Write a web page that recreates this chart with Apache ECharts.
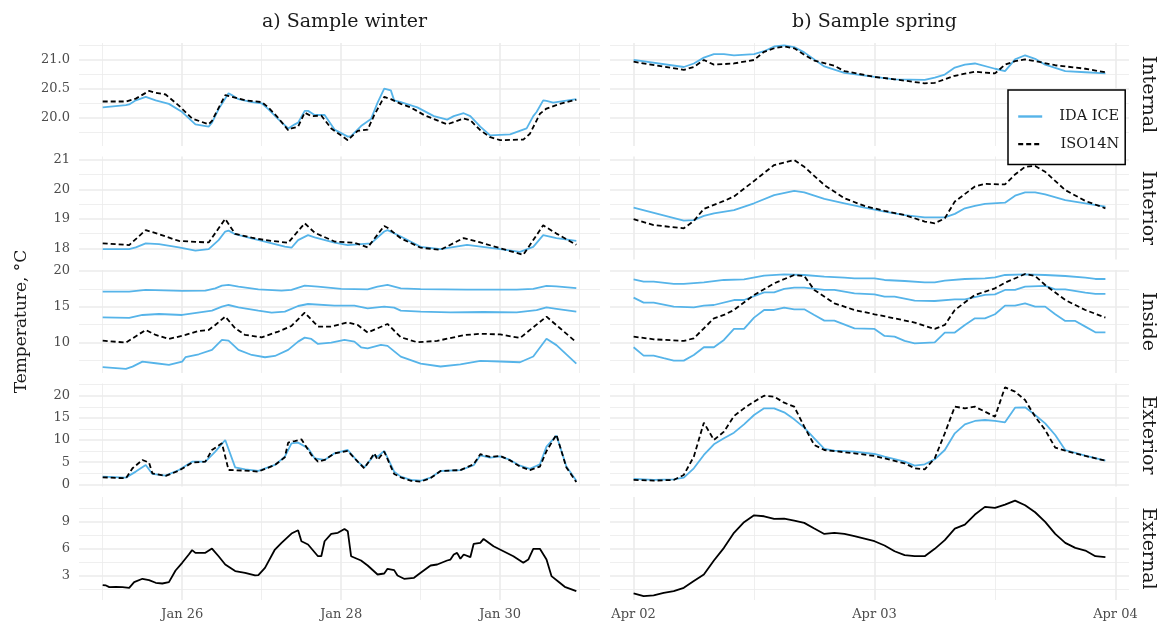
<!DOCTYPE html>
<html><head><meta charset="utf-8">
<script src="https://cdn.jsdelivr.net/npm/echarts@6/dist/echarts.min.js"></script>
<style>html,body{margin:0;padding:0;background:#fff}#c{width:1162px;height:624px}</style>
</head><body><div id="c"></div>
<script>
const FONT = '"DejaVu Serif", serif';
const BLUE = '#56B4E9';

// ---------- labels / ticks ----------
const panelRows = ['Internal', 'Interior', 'Inside', 'Exterior', 'External'];
const columnTitles = ['a) Sample winter', 'b) Sample spring'];
const winterTickHours = [24, 72, 120];
const winterTickLabels = ['Jan 26', 'Jan 28', 'Jan 30'];
const winterMinorHours = [0, 48, 96, 144];
const springTickHours = [0, 24, 48];
const springTickLabels = ['Apr 02', 'Apr 03', 'Apr 04'];
const springMinorHours = [12, 36];
const winterLimits = [-7.15, 150.15];
const springLimits = [-2.35, 49.35];
const yTicks = [[20, 20.5, 21], [18, 19, 20, 21], [10, 15, 20], [0, 5, 10, 15, 20], [3, 6, 9]];
const yTickLabels = [['20.0', '20.5', '21.0'], ['18', '19', '20', '21'], ['10', '15', '20'], ['0', '5', '10', '15', '20'], ['3', '6', '9']];
const yMinorTicks = [[19.75, 20.25, 20.75, 21.25], [18.5, 19.5, 20.5], [7.5, 12.5, 17.5], [2.5, 7.5, 12.5, 17.5, 22.5], [1.5, 4.5, 7.5, 10.5]];
const yLimits = [[19.52, 21.28], [17.62, 21.12], [5.69, 20.14], [-0.5, 22.75], [0.25, 11.8]];

// ---------- data: [hour, temperature °C] ----------
const winterInternalIDA = [[0,20.18],[7,20.22],[8,20.23],[10,20.30],[13,20.36],[16,20.30],[20,20.24],[24,20.10],[28,19.89],[32,19.85],[33,19.92],[35,20.15],[38,20.42],[39,20.39],[41,20.32],[45,20.27],[48,20.25],[50,20.15],[53,19.98],[56,19.82],[58,19.89],[59,19.92],[61,20.12],[62,20.12],[64,20.05],[67,20.05],[70,19.80],[74,19.68],[75,19.69],[78,19.86],[81,19.98],[83,20.26],[85,20.50],[87,20.47],[88,20.30],[90,20.27],[95,20.18],[100,20.03],[104,19.97],[106,20.03],[109,20.08],[111,20.03],[114,19.85],[117,19.70],[123,19.72],[128,19.82],[130,20.03],[131,20.10],[133,20.30],[134,20.29],[136,20.26],[138,20.28],[143,20.32]];
const winterInternalISO = [[0,20.28],[7,20.28],[10,20.33],[14,20.46],[16,20.43],[19,20.40],[23,20.21],[27,19.99],[32,19.89],[33,19.95],[37,20.39],[39,20.36],[43,20.30],[48,20.27],[50,20.18],[53,20.00],[56,19.79],[57,19.82],[59,19.85],[61,20.09],[63,20.03],[66,20.04],[69,19.82],[74,19.62],[77,19.78],[80,19.80],[82,20.05],[85,20.36],[87,20.32],[90,20.24],[93,20.18],[97,20.05],[100,19.98],[104,19.89],[106,19.93],[109,19.99],[111,19.96],[114,19.79],[117,19.67],[120,19.62],[127,19.63],[129,19.73],[132,20.07],[134,20.16],[138,20.24],[143,20.31]];
const springInternalIDA = [[0,20.99],[5,20.87],[6,20.93],[7,21.03],[8,21.09],[9,21.09],[10,21.07],[12,21.09],[13,21.14],[14,21.22],[15,21.24],[16,21.21],[17,21.12],[19,20.88],[21,20.77],[24,20.70],[26,20.66],[29,20.65],[30,20.69],[31,20.74],[32,20.86],[33,20.91],[34,20.93],[36,20.84],[37,20.80],[38,21.00],[39,21.07],[40,21.01],[41,20.91],[43,20.80],[45,20.78],[47,20.76]];
const springInternalISO = [[0,20.96],[5,20.82],[6,20.87],[7,20.99],[8,20.91],[10,20.93],[12,20.99],[13,21.13],[14,21.19],[15,21.22],[16,21.19],[17,21.08],[18,20.98],[20,20.89],[21,20.80],[24,20.70],[26,20.66],[29,20.59],[30,20.60],[32,20.72],[34,20.79],[36,20.76],[37,20.91],[38,20.97],[39,21.00],[40,20.97],[42,20.90],[45,20.84],[47,20.78]];

const winterInteriorIDA = [[0,17.97],[8,17.97],[10,18.03],[13,18.17],[17,18.14],[23,18.03],[28,17.92],[32,17.97],[35,18.28],[37,18.57],[38,18.60],[40,18.48],[45,18.34],[49,18.23],[55,18.06],[57,18.02],[59,18.28],[62,18.45],[64,18.37],[70,18.19],[74,18.11],[81,18.17],[85,18.57],[86,18.62],[90,18.40],[96,18.05],[102,17.97],[110,18.12],[120,17.97],[126,17.88],[130,18.05],[133,18.45],[137,18.35],[143,18.25]];
const winterInteriorISO = [[0,18.17],[8,18.11],[13,18.62],[17,18.48],[23,18.25],[28,18.22],[32,18.20],[37,19.00],[40,18.49],[45,18.36],[49,18.28],[56,18.19],[61,18.85],[64,18.53],[70,18.23],[76,18.19],[80,18.03],[85,18.76],[86,18.70],[90,18.34],[96,18.02],[102,17.95],[109,18.35],[114,18.20],[121,17.97],[127,17.78],[133,18.78],[137,18.50],[143,18.12]];
const springInteriorIDA = [[0,19.38],[5,18.94],[6,18.96],[7,19.10],[8,19.19],[10,19.30],[12,19.53],[14,19.81],[16,19.95],[17,19.90],[19,19.68],[21,19.53],[23,19.38],[25,19.25],[27,19.13],[29,19.05],[31,19.05],[32,19.17],[33,19.36],[34,19.44],[35,19.51],[37,19.55],[38,19.79],[39,19.90],[40,19.90],[41,19.83],[43,19.64],[45,19.53],[47,19.42]];
const springInteriorISO = [[0,18.99],[2,18.79],[5,18.68],[6,18.93],[7,19.34],[9,19.61],[10,19.76],[12,20.29],[14,20.83],[16,21.00],[17,20.77],[19,20.15],[21,19.70],[23,19.44],[25,19.27],[27,19.13],[29,18.91],[30,18.85],[31,19.02],[32,19.59],[34,20.10],[35,20.19],[37,20.17],[38,20.51],[39,20.77],[40,20.80],[41,20.60],[43,19.98],[45,19.61],[47,19.36]];

const winterInsideIDA1 = [[0,17.10],[8,17.10],[13,17.34],[24,17.20],[31,17.24],[34,17.57],[36,17.94],[38,18.04],[41,17.80],[47,17.43],[54,17.24],[57,17.34],[61,17.94],[65,17.80],[72,17.48],[80,17.43],[83,17.80],[86,18.04],[90,17.57],[96,17.45],[110,17.40],[125,17.40],[130,17.50],[134,17.90],[137,17.85],[143,17.60]];
const winterInsideIDA2 = [[0,13.50],[8,13.41],[12,13.83],[17,13.97],[24,13.83],[33,14.44],[36,15.00],[38,15.23],[41,14.91],[47,14.44],[51,14.16],[55,14.30],[59,15.09],[62,15.37],[70,15.14],[76,15.14],[80,14.77],[85,15.00],[88,14.86],[90,14.44],[96,14.30],[105,14.20],[115,14.25],[125,14.20],[131,14.50],[134,14.90],[137,14.70],[143,14.30]];
const winterInsideIDA3 = [[0,6.50],[7,6.26],[9,6.59],[12,7.29],[16,7.06],[20,6.82],[24,7.29],[25,7.90],[29,8.32],[33,8.93],[36,10.33],[38,10.23],[41,8.93],[45,8.22],[49,7.90],[52,8.08],[56,8.93],[59,10.09],[61,10.65],[63,10.47],[65,9.77],[69,9.95],[73,10.33],[76,10.09],[78,9.30],[80,9.16],[84,9.63],[86,9.49],[90,7.99],[96,7.00],[102,6.60],[108,6.90],[114,7.40],[120,7.30],[126,7.20],[130,8.00],[134,10.50],[137,9.60],[143,7.00]];
const winterInsideISO = [[0,10.23],[7,9.95],[13,11.73],[16,11.03],[20,10.47],[25,11.03],[29,11.59],[32,11.73],[34,12.43],[37,13.60],[40,11.96],[43,11.03],[48,10.70],[53,11.50],[57,12.29],[61,14.16],[65,12.20],[69,12.20],[74,12.80],[77,12.43],[80,11.36],[86,12.57],[90,10.70],[95,10.00],[101,10.20],[109,11.00],[114,11.20],[120,11.10],[126,10.60],[134,13.60],[138,12.00],[143,10.00]];
const springInsideIDA1 = [[0,18.83],[1,18.50],[2,18.50],[4,18.18],[5,18.18],[7,18.41],[9,18.74],[11,18.83],[13,19.35],[15,19.53],[17,19.44],[19,19.21],[21,19.07],[22,18.97],[24,18.97],[25,18.74],[27,18.60],[29,18.41],[30,18.41],[31,18.64],[33,18.88],[35,18.97],[36,19.11],[37,19.44],[39,19.53],[41,19.44],[43,19.30],[45,19.07],[46,18.88],[47,18.88]];
const springInsideIDA2 = [[0,16.26],[1,15.56],[2,15.56],[4,15.00],[6,14.91],[7,15.14],[8,15.23],[10,15.93],[11,15.93],[13,17.01],[14,17.01],[15,17.48],[16,17.66],[17,17.66],[19,17.34],[20,17.34],[22,16.87],[24,16.73],[25,16.40],[26,16.40],[28,15.84],[30,15.79],[32,16.03],[33,16.03],[35,16.64],[36,16.73],[37,17.34],[38,17.34],[39,17.80],[41,17.90],[42,17.43],[43,17.43],[45,16.96],[46,16.78],[47,16.78]];
const springInsideIDA3 = [[0,9.30],[1,8.13],[2,8.13],[3,7.76],[4,7.43],[5,7.43],[6,8.22],[7,9.30],[8,9.30],[9,10.33],[10,11.87],[11,11.87],[12,13.46],[13,14.53],[14,14.53],[15,14.86],[16,14.63],[17,14.63],[18,13.83],[19,13.04],[20,13.04],[22,11.96],[24,11.87],[25,10.89],[26,10.79],[27,10.19],[28,9.86],[30,10.00],[31,11.36],[32,11.36],[33,12.43],[34,13.36],[35,13.36],[36,13.93],[37,15.14],[38,15.14],[39,15.47],[40,15.00],[41,15.00],[42,13.93],[43,12.99],[44,12.99],[45,12.20],[46,11.40],[47,11.40]];
const springInsideISO = [[0,10.79],[2,10.42],[5,10.19],[6,10.56],[7,11.96],[8,13.36],[9,13.83],[10,14.53],[12,16.64],[14,18.27],[16,19.44],[17,19.30],[18,17.34],[20,15.47],[22,14.53],[24,13.93],[26,13.36],[28,12.76],[30,11.87],[31,12.43],[32,14.53],[34,16.64],[36,17.57],[37,18.36],[39,19.58],[40,19.30],[41,18.04],[43,15.93],[45,14.53],[47,13.46]];

const winterExteriorIDA = [[0,1.73],[7,1.50],[10,2.86],[13,4.36],[15,2.33],[19,1.95],[23,3.23],[27,5.11],[31,5.11],[34,7.37],[37,10.00],[40,3.83],[43,3.38],[47,3.01],[52,4.36],[55,6.24],[57,9.25],[59,9.40],[62,8.12],[64,5.86],[67,5.49],[70,6.99],[74,7.74],[77,5.11],[79,3.83],[82,6.62],[83,6.24],[85,7.52],[88,2.86],[90,1.73],[93,1.00],[96,0.80],[99,1.50],[102,3.00],[108,3.20],[112,4.30],[114,6.50],[117,6.00],[120,6.30],[123,5.50],[126,4.20],[129,3.50],[132,4.50],[134,8.50],[137,11.00],[140,4.00],[143,0.80]];
const winterExteriorISO = [[0,1.58],[7,1.35],[9,3.61],[12,5.49],[14,4.89],[15,2.48],[19,1.88],[23,3.08],[27,4.89],[31,5.11],[33,7.74],[36,9.25],[38,3.23],[43,3.08],[47,2.86],[52,4.36],[55,6.09],[56,9.40],[58,9.77],[60,10.15],[63,6.62],[65,5.11],[67,5.49],[70,6.99],[74,7.52],[77,5.11],[79,3.61],[82,6.99],[83,5.49],[85,7.37],[88,2.33],[90,1.58],[93,0.80],[96,0.60],[99,1.40],[102,3.00],[108,3.20],[112,4.50],[114,6.80],[117,6.20],[120,6.40],[123,5.40],[126,4.00],[129,3.20],[132,4.00],[134,7.50],[137,11.20],[140,3.80],[143,0.50]];
const springExteriorIDA = [[0,1.20],[2,0.98],[4,1.13],[5,1.50],[6,3.61],[7,6.62],[8,9.02],[9,10.38],[10,11.65],[11,13.53],[12,15.64],[13,17.14],[14,17.14],[15,16.24],[16,14.66],[17,12.78],[18,10.38],[19,7.97],[20,7.59],[22,7.37],[24,6.84],[25,6.24],[27,5.11],[28,4.21],[29,4.51],[30,5.64],[31,7.74],[32,11.50],[33,13.53],[34,14.29],[35,14.51],[36,14.29],[37,13.98],[38,17.29],[39,17.37],[40,15.64],[41,13.76],[42,11.13],[43,7.74],[45,6.47],[47,5.34]];
const springExteriorISO = [[0,0.98],[2,0.83],[4,0.98],[5,2.11],[6,6.24],[7,13.91],[8,10.00],[9,11.88],[10,15.41],[11,17.14],[12,18.65],[13,20.00],[14,19.77],[15,18.42],[16,17.52],[17,13.01],[18,8.87],[19,7.74],[22,6.99],[24,6.39],[27,4.74],[28,3.61],[29,3.38],[30,5.86],[31,11.50],[32,17.52],[33,17.14],[34,17.52],[35,16.39],[36,15.26],[37,21.88],[38,20.90],[39,19.02],[40,15.26],[41,12.26],[42,8.27],[43,7.59],[45,6.39],[47,5.34]];

const winterExternal = [[0,1.92],[1,1.88],[2,1.69],[4,1.73],[6,1.69],[8,1.62],[9.5,2.25],[12,2.63],[14,2.48],[16,2.18],[18,2.10],[20,2.25],[22,3.56],[24,4.42],[26,5.35],[27,5.84],[28,5.54],[31,5.54],[33,6.02],[35,5.16],[37,4.23],[40,3.49],[43,3.30],[46,3.00],[47,3.04],[49,3.86],[52,5.91],[54,6.66],[57,7.70],[59,8.07],[60,6.84],[62,6.47],[65,5.16],[66,5.16],[67,6.84],[69,7.66],[71,7.78],[73,8.22],[74,7.96],[75,5.16],[78,4.68],[80,4.12],[83,3.11],[85,3.22],[86,3.75],[88,3.60],[89,3.00],[91,2.63],[94,2.74],[96,3.30],[99,4.12],[101,4.23],[104,4.68],[105,4.79],[106,5.35],[107,5.54],[108,4.87],[109,5.35],[111,5.05],[112,6.54],[114,6.66],[115,7.10],[118,6.28],[121,5.72],[124,5.16],[127,4.42],[128.5,4.79],[130,5.99],[132,5.99],[134,4.79],[135.5,2.93],[138,2.18],[139.5,1.73],[143,1.25]];
const springExternal = [[0,0.99],[1,0.69],[2,0.76],[3,1.06],[4,1.25],[5,1.62],[6,2.37],[7,3.11],[8,4.68],[9,6.10],[10,7.78],[11,8.97],[12,9.75],[13,9.64],[14,9.34],[15,9.38],[16,9.16],[17,8.90],[18,8.26],[19,7.66],[20,7.78],[21,7.66],[22,7.40],[24,6.84],[25,6.36],[26,5.72],[27,5.28],[28,5.16],[29,5.16],[30,5.99],[31,6.96],[32,8.26],[33,8.71],[34,9.83],[35,10.69],[36,10.57],[37,10.95],[38,11.40],[39,10.87],[40,10.09],[41,9.01],[42,7.66],[43,6.66],[44,6.10],[45,5.80],[46,5.16],[47,5.05]];

// ---------- layout ----------
const gridTops = [43, 156.5, 270, 383.5, 497];
const gridHeight = 103;
const colLeft = [79, 610];
const colWidth = [521, 519];

const grids = [], xAxes = [], yAxes = [], series = [];
for (let r = 0; r < 5; r++) {
  for (let c = 0; c < 2; c++) {
    grids.push({ left: colLeft[c], width: colWidth[c], top: gridTops[r], height: gridHeight, containLabel: false });
  }
}
function mkX(g, r, c, minor) {
  const lim = c === 0 ? winterLimits : springLimits;
  const maj = c === 0 ? winterTickHours : springTickHours;
  const lab = c === 0 ? winterTickLabels : springTickLabels;
  const vals = minor ? (c === 0 ? winterMinorHours : springMinorHours) : maj;
  return {
    type: 'value', gridIndex: g, min: lim[0], max: lim[1],
    axisLine: { show: false },
    axisTick: { show: false, customValues: vals },
    axisLabel: {
      show: !minor && r === 4, customValues: vals, margin: 8,
      fontFamily: FONT, fontSize: 13, color: '#4d4d4d',
      formatter: v => { const i = maj.findIndex(m => Math.abs(m - v) < 1e-6); return i >= 0 ? lab[i] : ''; }
    },
    splitLine: { show: true, lineStyle: { color: '#ebebeb', width: minor ? 0.8 : 1.6 } }
  };
}
function mkY(g, r, c, minor) {
  const vals = minor ? yMinorTicks[r] : yTicks[r];
  const ax = {
    type: 'value', gridIndex: g, min: yLimits[r][0], max: yLimits[r][1],
    axisLine: { show: false },
    axisTick: { show: false, customValues: vals },
    axisLabel: {
      show: !minor && c === 0, customValues: vals, margin: 9,
      fontFamily: FONT, fontSize: 13, color: '#4d4d4d',
      formatter: v => { const i = yTicks[r].findIndex(m => Math.abs(m - v) < 1e-6); return i >= 0 ? yTickLabels[r][i] : ''; }
    },
    splitLine: { show: true, lineStyle: { color: '#ebebeb', width: minor ? 0.8 : 1.6 } }
  };
  if (!minor && c === 0 && r === 2) {
    ax.name = 'Temperature, °C';
    ax.nameLocation = 'middle';
    ax.nameGap = 49;
    ax.nameTextStyle = { fontFamily: FONT, fontSize: 17, color: '#1a1a1a' };
  }
  return ax;
}
for (let g = 0; g < 10; g++) { const r = Math.floor(g / 2), c = g % 2; xAxes.push(mkX(g, r, c, false)); yAxes.push(mkY(g, r, c, false)); }
for (let g = 0; g < 10; g++) { const r = Math.floor(g / 2), c = g % 2; xAxes.push(mkX(g, r, c, true)); yAxes.push(mkY(g, r, c, true)); }

function addLine(name, data, r, c, kind) {
  const g = r * 2 + c;
  const ls = kind === 'blue' ? { color: BLUE, width: 1.8 }
    : kind === 'dash' ? { color: '#000', width: 1.8, type: [5, 3] }
    : { color: '#000', width: 1.8 };
  series.push({
    type: 'line', name, data, xAxisIndex: g, yAxisIndex: g,
    symbol: 'none', showSymbol: false, silent: true,
    lineStyle: ls, itemStyle: { color: ls.color }, z: kind === 'dash' ? 4 : 3
  });
}
// IDA ICE first, ISO14N drawn on top
addLine('IDA ICE', winterInternalIDA, 0, 0, 'blue');
addLine('IDA ICE', springInternalIDA, 0, 1, 'blue');
addLine('IDA ICE', winterInteriorIDA, 1, 0, 'blue');
addLine('IDA ICE', springInteriorIDA, 1, 1, 'blue');
addLine('IDA ICE', winterInsideIDA1, 2, 0, 'blue');
addLine('IDA ICE', winterInsideIDA2, 2, 0, 'blue');
addLine('IDA ICE', winterInsideIDA3, 2, 0, 'blue');
addLine('IDA ICE', springInsideIDA1, 2, 1, 'blue');
addLine('IDA ICE', springInsideIDA2, 2, 1, 'blue');
addLine('IDA ICE', springInsideIDA3, 2, 1, 'blue');
addLine('IDA ICE', winterExteriorIDA, 3, 0, 'blue');
addLine('IDA ICE', springExteriorIDA, 3, 1, 'blue');
addLine('ISO14N', winterInternalISO, 0, 0, 'dash');
addLine('ISO14N', springInternalISO, 0, 1, 'dash');
addLine('ISO14N', winterInteriorISO, 1, 0, 'dash');
addLine('ISO14N', springInteriorISO, 1, 1, 'dash');
addLine('ISO14N', winterInsideISO, 2, 0, 'dash');
addLine('ISO14N', springInsideISO, 2, 1, 'dash');
addLine('ISO14N', winterExteriorISO, 3, 0, 'dash');
addLine('ISO14N', springExteriorISO, 3, 1, 'dash');
addLine('External', winterExternal, 4, 0, 'solid');
addLine('External', springExternal, 4, 1, 'solid');

const graphics = panelRows.map((t, r) => ({
  type: 'text', x: 1148, y: gridTops[r] + gridHeight / 2, rotation: -Math.PI / 2,
  style: { text: t, font: '19px ' + FONT, fill: '#1a1a1a', align: 'center', verticalAlign: 'middle' }
}));

const chart = echarts.init(document.getElementById('c'), null, { renderer: 'canvas' });
chart.setOption({
  animation: false,
  backgroundColor: '#fff',
  title: columnTitles.map((t, c) => ({
    text: t, left: colLeft[c] + colWidth[c] / 2, top: 8, textAlign: 'center',
    textStyle: { fontFamily: FONT, fontSize: 19, fontWeight: 'normal', color: '#1a1a1a' }
  })),
  legend: {
    data: ['IDA ICE', 'ISO14N'], orient: 'vertical', left: 1008, top: 90,
    padding: [19, 6, 13, 9], itemWidth: 24, itemHeight: 14, itemGap: 12.6,
    borderColor: '#000', borderWidth: 1.5, backgroundColor: '#fff',
    itemStyle: { color: 'rgba(0,0,0,0)', borderWidth: 0, opacity: 0 },
    lineStyle: { width: 2.4 },
    formatter: '{t|{name}}',
    textStyle: { rich: { t: { width: 72, align: 'right', fontFamily: FONT, fontSize: 14.5, color: '#1a1a1a' } } },
    z: 10
  },
  grid: grids, xAxis: xAxes, yAxis: yAxes, series, graphic: graphics
});
</script></body></html>
